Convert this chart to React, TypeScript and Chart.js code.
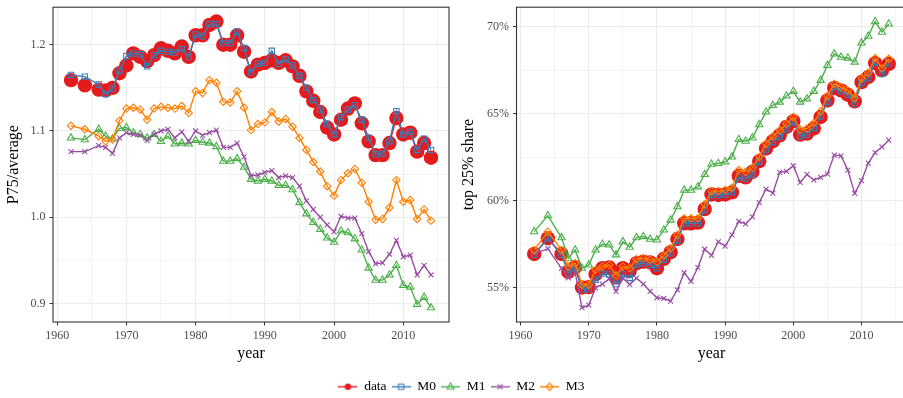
import React, { useEffect, useRef } from 'react';
import { Chart, registerables } from 'chart.js';

Chart.register(...registerables);

// ---------------- data ----------------
const years = [
  1962, 1964, 1966, 1967, 1968, 1969, 1970, 1971, 1972, 1973, 1974, 1975, 1976,
  1977, 1978, 1979, 1980, 1981, 1982, 1983, 1984, 1985, 1986, 1987, 1988, 1989,
  1990, 1991, 1992, 1993, 1994, 1995, 1996, 1997, 1998, 1999, 2000, 2001, 2002,
  2003, 2004, 2005, 2006, 2007, 2008, 2009, 2010, 2011, 2012, 2013, 2014,
];

// Left panel: P75 / average
const p75Data = [
  1.159, 1.153, 1.148, 1.147, 1.150, 1.167, 1.176, 1.190, 1.186, 1.181, 1.188, 1.196, 1.193,
  1.190, 1.198, 1.186, 1.211, 1.211, 1.223, 1.227, 1.200, 1.200, 1.211, 1.192, 1.169, 1.177,
  1.179, 1.182, 1.179, 1.182, 1.175, 1.164, 1.146, 1.135, 1.122, 1.104, 1.096, 1.113, 1.126,
  1.132, 1.109, 1.088, 1.072, 1.072, 1.086, 1.115, 1.096, 1.098, 1.076, 1.086, 1.069,
];
const p75M0 = [
  1.165, 1.163, 1.154, 1.143, 1.149, 1.170, 1.187, 1.190, 1.189, 1.175, 1.188, 1.193, 1.192,
  1.191, 1.195, 1.186, 1.212, 1.210, 1.224, 1.224, 1.202, 1.202, 1.215, 1.196, 1.168, 1.178,
  1.179, 1.193, 1.178, 1.183, 1.176, 1.164, 1.150, 1.136, 1.125, 1.108, 1.096, 1.116, 1.125,
  1.130, 1.113, 1.092, 1.073, 1.074, 1.088, 1.123, 1.096, 1.099, 1.078, 1.091, 1.078,
];
const p75M1 = [
  1.092, 1.090, 1.102, 1.094, 1.091, 1.103, 1.104, 1.098, 1.096, 1.092, 1.096, 1.088, 1.094,
  1.085, 1.086, 1.085, 1.089, 1.087, 1.086, 1.082, 1.065, 1.065, 1.068, 1.058, 1.044, 1.042,
  1.044, 1.042, 1.037, 1.037, 1.032, 1.017, 1.004, 0.994, 0.986, 0.976, 0.971, 0.984, 0.982,
  0.975, 0.962, 0.941, 0.927, 0.927, 0.933, 0.944, 0.921, 0.919, 0.899, 0.907, 0.895,
];
const p75M2 = [
  1.076, 1.076, 1.083, 1.081, 1.074, 1.092, 1.098, 1.096, 1.095, 1.089, 1.096, 1.100, 1.102,
  1.092, 1.099, 1.088, 1.100, 1.095, 1.098, 1.101, 1.081, 1.081, 1.086, 1.070, 1.048, 1.049,
  1.052, 1.054, 1.046, 1.048, 1.046, 1.036, 1.019, 1.009, 1.000, 0.991, 0.983, 1.001, 0.999,
  0.999, 0.981, 0.960, 0.946, 0.947, 0.957, 0.973, 0.954, 0.956, 0.933, 0.944, 0.933,
];
const p75M3 = [
  1.106, 1.102, 1.094, 1.088, 1.090, 1.112, 1.126, 1.127, 1.125, 1.113, 1.126, 1.128, 1.127,
  1.126, 1.129, 1.121, 1.146, 1.144, 1.159, 1.156, 1.134, 1.133, 1.146, 1.127, 1.101, 1.108,
  1.110, 1.122, 1.111, 1.114, 1.105, 1.092, 1.078, 1.064, 1.053, 1.036, 1.025, 1.043, 1.051,
  1.056, 1.040, 1.018, 0.997, 0.998, 1.011, 1.043, 1.018, 1.020, 0.998, 1.009, 0.996,
];

// Right panel: top 25% share (percent)
const shareData = [
  56.93, 57.83, 56.93, 55.90, 56.17, 55.00, 55.02, 55.77, 56.11, 56.15, 55.58, 56.11, 55.96,
  56.40, 56.49, 56.44, 56.11, 56.65, 57.03, 57.79, 58.69, 58.69, 58.73, 59.51, 60.35, 60.32,
  60.35, 60.47, 61.42, 61.33, 61.65, 62.26, 62.99, 63.41, 63.75, 64.23, 64.56, 63.79, 63.85,
  64.14, 64.80, 65.76, 66.47, 66.33, 66.08, 65.70, 66.81, 67.10, 67.90, 67.48, 67.86,
];
const shareM0 = [
  56.88, 57.83, 56.88, 55.83, 56.11, 54.90, 54.90, 55.45, 55.80, 55.75, 55.20, 55.75, 55.55,
  56.34, 56.40, 56.30, 56.11, 56.59, 56.97, 57.68, 58.69, 58.69, 58.69, 59.46, 60.32, 60.32,
  60.35, 60.47, 61.33, 61.27, 61.50, 62.23, 62.93, 63.37, 63.66, 64.08, 64.52, 63.70, 63.79,
  64.17, 64.84, 65.66, 66.52, 66.28, 66.08, 65.57, 66.77, 67.04, 67.92, 67.29, 67.90,
];
const shareM1 = [
  58.21, 59.13, 57.87, 56.69, 57.16, 56.11, 56.30, 57.16, 57.49, 57.45, 56.88, 57.64, 57.32,
  57.87, 57.93, 57.78, 57.74, 58.31, 58.88, 59.65, 60.60, 60.60, 60.79, 61.50, 62.09, 62.13,
  62.23, 62.51, 63.51, 63.41, 63.60, 64.36, 65.09, 65.47, 65.66, 66.01, 66.28, 65.66, 65.85,
  66.28, 66.91, 67.77, 68.43, 68.24, 68.19, 67.96, 69.06, 69.45, 70.29, 69.68, 70.15,
];
const shareM2 = [
  56.95, 57.23, 56.10, 55.55, 55.87, 53.84, 53.99, 54.98, 55.20, 55.50, 54.78, 55.54, 55.18,
  55.54, 55.20, 54.78, 54.41, 54.37, 54.22, 54.87, 55.85, 55.35, 56.15, 57.20, 56.85, 57.63,
  57.38, 58.03, 58.80, 58.66, 59.06, 59.88, 60.66, 60.43, 61.62, 61.68, 62.00, 61.04, 61.50,
  61.18, 61.33, 61.52, 62.61, 62.57, 61.75, 60.41, 61.14, 62.15, 62.76, 63.08, 63.47,
];
const shareM3 = [
  57.16, 58.21, 57.16, 56.21, 56.40, 55.16, 55.16, 56.02, 56.21, 56.30, 55.69, 56.21, 56.11,
  56.63, 56.69, 56.59, 56.49, 56.84, 57.26, 58.02, 58.98, 58.98, 58.98, 59.78, 60.54, 60.54,
  60.60, 60.74, 61.75, 61.65, 61.88, 62.51, 63.28, 63.70, 64.04, 64.42, 64.80, 64.08, 64.14,
  64.46, 65.13, 66.01, 66.71, 66.52, 66.33, 65.89, 67.04, 67.35, 68.19, 67.61, 68.15,
];

const seriesNames = ['data', 'M0', 'M1', 'M2', 'M3'];
const seriesColors = ['#E41A1C', '#377EB8', '#4DAF4A', '#984EA3', '#FF7F00'];

const xMajorTicks = [1960, 1970, 1980, 1990, 2000, 2010];
const xMinorTicks = [1965, 1975, 1985, 1995, 2005, 2015];
const leftMajorTicks = [0.9, 1.0, 1.1, 1.2];
const leftMinorTicks = [0.95, 1.05, 1.15];
const rightMajorTicks = [55, 60, 65, 70];
const rightMinorTicks = [57.5, 62.5, 67.5];

const leftTitle = 'P75/average';
const rightTitle = 'top 25% share';
const xTitle = 'year';

// ---------------- styling ----------------
const FONT = "'Liberation Serif', 'Times New Roman', serif";
const GRID = '#EBEBEB';
const DARK = '#333333';
const TICK_TXT = '#4D4D4D';

Chart.defaults.font.family = FONT;

const pointStyles = ['circle', 'rect', 'triangle', 'crossRot', 'rectRot'];
const pointRadii = [7.2, 3.8, 4.2, 3.5, 3.7];

function expandRange(arrs: number[][]) {
  let lo = Infinity;
  let hi = -Infinity;
  arrs.forEach((a) => a.forEach((v) => { lo = Math.min(lo, v); hi = Math.max(hi, v); }));
  const pad = (hi - lo) * 0.05;
  return [lo - pad, hi + pad];
}

const borderPlugin = {
  id: 'panelBorder',
  afterDraw(chart: any) {
    const { ctx, chartArea } = chart;
    ctx.save();
    ctx.strokeStyle = DARK;
    ctx.lineWidth = 1.1;
    ctx.strokeRect(chartArea.left, chartArea.top, chartArea.right - chartArea.left, chartArea.bottom - chartArea.top);
    ctx.restore();
  },
};

function makeConfig(
  series: number[][],
  yMajor: number[],
  yMinor: number[],
  yFmt: (v: number) => string,
  yTitle: string,
  yAxisWidth: number,
  yTitlePad: number,
  padRight: number,
) {
  const [yMin, yMax] = expandRange(series);
  const xPad = (years[years.length - 1] - years[0]) * 0.05;
  const xAll = [...xMajorTicks, ...xMinorTicks].sort((a, b) => a - b);
  const yAll = [...yMajor, ...yMinor].sort((a, b) => a - b);
  const isMajX = (v: number) => xMajorTicks.includes(v);
  const isMajY = (v: number) => yMajor.includes(v);

  const datasets = series.map((vals, i) => ({
    label: seriesNames[i],
    data: vals.map((v, k) => ({ x: years[k], y: v })),
    borderColor: seriesColors[i],
    backgroundColor: seriesColors[i],
    borderWidth: 1.4,
    pointStyle: pointStyles[i],
    pointRadius: pointRadii[i],
    pointBorderWidth: i === 0 ? 0 : 1.1,
    pointBorderColor: seriesColors[i],
    pointBackgroundColor: i === 0 ? seriesColors[i] : 'rgba(0,0,0,0)',
    tension: 0,
    fill: false,
    order: 5 - i,
  }));

  return {
    type: 'line',
    data: { datasets },
    options: {
      responsive: false,
      animation: false,
      devicePixelRatio: 1,
      layout: { padding: { top: 6, right: padRight, bottom: 0, left: 0 } },
      plugins: { legend: { display: false }, tooltip: { enabled: false } },
      scales: {
        x: {
          type: 'linear',
          min: years[0] - xPad,
          max: years[years.length - 1] + xPad,
          afterBuildTicks: (axis: any) => { axis.ticks = xAll.map((v) => ({ value: v })); },
          afterFit: (axis: any) => {
            axis.height = 41;
            axis.paddingLeft = 0;
            axis.paddingRight = 0;
          },
          ticks: {
            autoSkip: false,
            maxRotation: 0,
            padding: 3,
            color: TICK_TXT,
            font: { size: 12 },
            callback: (v: number) => (isMajX(v) ? String(v) : ''),
          },
          grid: {
            color: GRID,
            lineWidth: (c: any) => (c.tick && isMajX(c.tick.value) ? 1.1 : 0.55),
            tickColor: (c: any) => (c.tick && isMajX(c.tick.value) ? DARK : 'rgba(0,0,0,0)'),
            tickWidth: 1,
            tickLength: 3.5,
          },
          border: { display: false },
          title: { display: true, text: xTitle, color: '#000', font: { size: 16 }, padding: 0 },
        },
        y: {
          type: 'linear',
          min: yMin,
          max: yMax,
          afterBuildTicks: (axis: any) => { axis.ticks = yAll.map((v) => ({ value: v })); },
          afterFit: (axis: any) => {
            axis.width = yAxisWidth;
            axis.paddingTop = 0;
            axis.paddingBottom = 0;
          },
          ticks: {
            autoSkip: false,
            padding: 4,
            color: TICK_TXT,
            font: { size: 12 },
            callback: (v: number) => (isMajY(v) ? yFmt(v) : ''),
          },
          grid: {
            color: GRID,
            lineWidth: (c: any) => (c.tick && isMajY(c.tick.value) ? 1.1 : 0.55),
            tickColor: (c: any) => (c.tick && isMajY(c.tick.value) ? DARK : 'rgba(0,0,0,0)'),
            tickWidth: 1,
            tickLength: 3.5,
          },
          border: { display: false },
          title: {
            display: true,
            text: yTitle,
            color: '#000',
            font: { size: 16 },
            padding: { top: yTitlePad, bottom: 0 },
          },
        },
      },
    },
    plugins: [borderPlugin],
  };
}

function makeIcon(i: number) {
  const c = document.createElement('canvas');
  c.width = 19;
  c.height = 12;
  const ctx = c.getContext('2d') as CanvasRenderingContext2D;
  const col = seriesColors[i];
  ctx.strokeStyle = col;
  ctx.fillStyle = col;
  ctx.lineWidth = 1.4;
  ctx.beginPath();
  ctx.moveTo(0, 6);
  ctx.lineTo(19, 6);
  ctx.stroke();
  ctx.lineWidth = 1.1;
  const cx = 9.5;
  const cy = 6;
  ctx.beginPath();
  if (i === 0) {
    ctx.arc(cx, cy, 3.2, 0, Math.PI * 2);
    ctx.fill();
  } else if (i === 1) {
    ctx.rect(cx - 2.7, cy - 2.7, 5.4, 5.4);
    ctx.stroke();
  } else if (i === 2) {
    ctx.moveTo(cx, cy - 4);
    ctx.lineTo(cx + 3.5, cy + 2.2);
    ctx.lineTo(cx - 3.5, cy + 2.2);
    ctx.closePath();
    ctx.stroke();
  } else if (i === 3) {
    ctx.moveTo(cx - 2.6, cy - 2.6);
    ctx.lineTo(cx + 2.6, cy + 2.6);
    ctx.moveTo(cx + 2.6, cy - 2.6);
    ctx.lineTo(cx - 2.6, cy + 2.6);
    ctx.stroke();
  } else {
    ctx.moveTo(cx, cy - 3.6);
    ctx.lineTo(cx + 3.6, cy);
    ctx.lineTo(cx, cy + 3.6);
    ctx.lineTo(cx - 3.6, cy);
    ctx.closePath();
    ctx.stroke();
  }
  return c;
}

export default function App() {
  const leftRef = useRef<HTMLCanvasElement>(null);
  const rightRef = useRef<HTMLCanvasElement>(null);
  const legendRef = useRef<HTMLCanvasElement>(null);

  useEffect(() => {
    const left = new Chart(
      leftRef.current as HTMLCanvasElement,
      makeConfig(
        [p75Data, p75M0, p75M1, p75M2, p75M3],
        leftMajorTicks,
        leftMinorTicks,
        (v) => v.toFixed(1),
        leftTitle,
        53,
        4.4,
        11,
      ) as any,
    );
    const right = new Chart(
      rightRef.current as HTMLCanvasElement,
      makeConfig(
        [shareData, shareM0, shareM1, shareM2, shareM3],
        rightMajorTicks,
        rightMinorTicks,
        (v) => `${v}%`,
        rightTitle,
        60.5,
        3.4,
        9.5,
      ) as any,
    );
    const icons = seriesNames.map((_, i) => makeIcon(i));
    const legend = new Chart(legendRef.current as HTMLCanvasElement, {
      type: 'line',
      data: {
        datasets: seriesNames.map((n, i) => ({ label: n, data: [], borderColor: seriesColors[i] })),
      },
      options: {
        responsive: false,
        animation: false,
        devicePixelRatio: 1,
        layout: { padding: 0 },
        scales: { x: { display: false }, y: { display: false } },
        plugins: {
          tooltip: { enabled: false },
          legend: {
            display: true,
            position: 'top',
            align: 'center',
            labels: {
              usePointStyle: true,
              pointStyleWidth: 19,
              boxHeight: 10,
              padding: 5,
              color: '#000',
              font: { size: 13.5, family: FONT },
              generateLabels: () =>
                seriesNames.map((n, i) => ({
                  text: n,
                  pointStyle: icons[i],
                  fillStyle: 'rgba(0,0,0,0)',
                  strokeStyle: 'rgba(0,0,0,0)',
                  lineWidth: 0,
                  hidden: false,
                  datasetIndex: i,
                  fontColor: '#000',
                })),
            },
          },
        },
      },
    } as any);
    return () => {
      left.destroy();
      right.destroy();
      legend.destroy();
    };
  }, []);

  return (
    <div
      style={{
        position: 'fixed',
        left: 0,
        top: 0,
        width: 903,
        height: 398,
        overflow: 'hidden',
        background: '#ffffff',
      }}
    >
      <canvas
        ref={leftRef}
        width={460}
        height={363}
        style={{ position: 'absolute', left: 0, top: 0, width: 460, height: 363 }}
      />
      <canvas
        ref={rightRef}
        width={460}
        height={363}
        style={{ position: 'absolute', left: 456, top: 0, width: 460, height: 363 }}
      />
      <canvas
        ref={legendRef}
        width={903}
        height={60}
        style={{ position: 'absolute', left: 10, top: 375, width: 903, height: 60 }}
      />
    </div>
  );
}
